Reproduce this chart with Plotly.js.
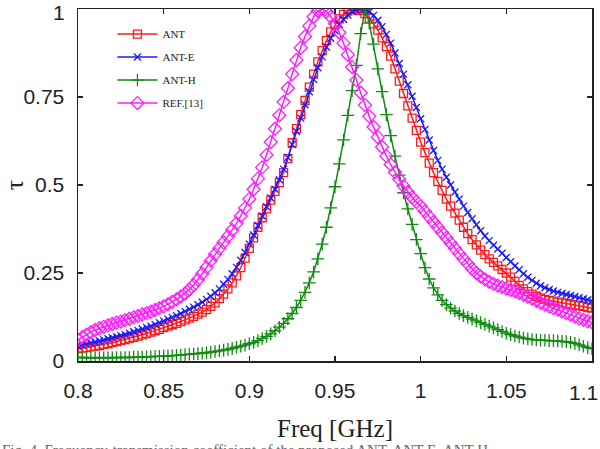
<!DOCTYPE html>
<html>
<head>
<meta charset="utf-8">
<script src="https://cdn.plot.ly/plotly-3.0.1.min.js"></script>
<style>html,body{margin:0;padding:0;background:#fff;}#chart{width:600px;height:449px;}</style>
</head>
<body>
<div id="chart"></div>
<script>
// Frequency grid: starts at 0.8 GHz, step 0.0025 GHz (121 samples), passed to Plotly as x0/dx
const freqStart = 0.8;
const freqStep = 0.0025;

const seriesNames = ["ANT", "ANT-E", "ANT-H", "REF.[13]"];

const tauANT = [
0.035,0.037,0.038,0.040,0.042,0.044,0.047,0.049,0.052,0.055,
0.058,0.061,0.064,0.067,0.071,0.074,0.078,0.082,0.086,0.090,
0.095,0.099,0.103,0.107,0.112,0.117,0.122,0.127,0.133,0.139,
0.146,0.155,0.165,0.177,0.190,0.205,0.222,0.242,0.265,0.292,
0.320,0.350,0.380,0.407,0.432,0.457,0.482,0.507,0.535,0.575,
0.620,0.660,0.700,0.740,0.778,0.815,0.850,0.882,0.910,0.935,
0.955,0.972,0.985,0.994,0.998,1.000,0.996,0.987,0.974,0.958,
0.940,0.918,0.893,0.866,0.830,0.795,0.760,0.725,0.690,0.655,
0.622,0.592,0.562,0.535,0.510,0.485,0.460,0.440,0.420,0.400,
0.380,0.362,0.345,0.330,0.315,0.302,0.290,0.280,0.270,0.260,
0.250,0.238,0.226,0.215,0.205,0.197,0.190,0.184,0.179,0.175,
0.172,0.170,0.167,0.165,0.163,0.161,0.159,0.157,0.155,0.152,
0.150];

const tauANTE = [
0.042,0.045,0.048,0.051,0.054,0.057,0.060,0.063,0.066,0.069,
0.072,0.075,0.079,0.083,0.087,0.091,0.095,0.099,0.104,0.109,
0.114,0.119,0.124,0.129,0.135,0.141,0.147,0.153,0.160,0.167,
0.175,0.184,0.194,0.205,0.218,0.232,0.248,0.266,0.286,0.308,
0.332,0.358,0.385,0.412,0.438,0.463,0.488,0.515,0.545,0.578,
0.615,0.652,0.690,0.728,0.765,0.800,0.833,0.864,0.892,0.917,
0.938,0.956,0.971,0.983,0.992,0.998,1.000,0.998,0.992,0.982,
0.968,0.950,0.928,0.903,0.875,0.845,0.815,0.785,0.752,0.720,
0.688,0.658,0.628,0.598,0.570,0.545,0.522,0.500,0.480,0.460,
0.440,0.422,0.404,0.387,0.370,0.355,0.342,0.329,0.318,0.306,
0.294,0.282,0.270,0.259,0.248,0.238,0.229,0.221,0.214,0.208,
0.203,0.199,0.195,0.192,0.189,0.186,0.183,0.180,0.177,0.174,
0.170];

const tauANTH = [
0.010,0.010,0.009,0.009,0.009,0.009,0.009,0.009,0.009,0.010,
0.010,0.010,0.010,0.011,0.011,0.011,0.012,0.012,0.013,0.013,
0.014,0.014,0.015,0.016,0.017,0.018,0.019,0.020,0.021,0.022,
0.023,0.025,0.027,0.029,0.031,0.033,0.036,0.039,0.042,0.045,
0.049,0.053,0.058,0.064,0.070,0.077,0.086,0.096,0.107,0.120,
0.135,0.152,0.172,0.195,0.222,0.253,0.290,0.332,0.380,0.435,
0.495,0.560,0.628,0.698,0.768,0.840,0.930,1.000,0.960,0.900,
0.830,0.765,0.700,0.640,0.582,0.528,0.478,0.432,0.388,0.345,
0.305,0.265,0.233,0.208,0.188,0.172,0.160,0.150,0.142,0.135,
0.129,0.124,0.119,0.114,0.109,0.104,0.099,0.094,0.089,0.084,
0.079,0.075,0.071,0.068,0.065,0.063,0.061,0.060,0.059,0.059,
0.058,0.058,0.057,0.056,0.055,0.053,0.050,0.046,0.042,0.038,
0.035];

const tauREF = [
0.060,0.068,0.075,0.082,0.088,0.093,0.097,0.101,0.105,0.109,
0.112,0.116,0.120,0.124,0.128,0.132,0.136,0.140,0.145,0.150,
0.155,0.161,0.168,0.175,0.183,0.192,0.203,0.216,0.231,0.248,
0.266,0.285,0.303,0.320,0.337,0.354,0.372,0.391,0.412,0.435,
0.460,0.488,0.518,0.550,0.585,0.622,0.660,0.698,0.736,0.775,
0.815,0.855,0.890,0.922,0.952,0.978,0.995,1.000,0.993,0.978,
0.958,0.933,0.903,0.870,0.835,0.798,0.762,0.727,0.695,0.665,
0.636,0.608,0.582,0.558,0.536,0.516,0.497,0.480,0.465,0.452,
0.440,0.425,0.410,0.395,0.380,0.365,0.350,0.335,0.320,0.305,
0.290,0.276,0.262,0.250,0.240,0.232,0.225,0.219,0.214,0.210,
0.206,0.202,0.198,0.193,0.188,0.183,0.177,0.171,0.165,0.160,
0.155,0.150,0.146,0.141,0.136,0.131,0.126,0.121,0.117,0.113,
0.110];

const xTickVals = [0.8, 0.85, 0.9, 0.95, 1, 1.05, 1.1];
const xTickText = ["0.8", "0.85", "0.9", "0.95", "1", "1.05", "1.1"];
const yTickVals = [0, 0.25, 0.5, 0.75, 1];
const yTickText = ["0", "0.25", "0.5", "0.75", "1"];

const captionText = "Fig. 4. Frequency-transmission coefficient of the proposed ANT, ANT-E, ANT-H";

function mk(name, y, color, symbol, size, group) {
  return {
    type: "scatter", mode: "lines+markers", name: name, y: y,
    x0: freqStart, dx: freqStep, legendgroup: group,
    line: {color: color, width: 1.5},
    marker: {symbol: symbol, size: size, color: color, line: {color: color, width: 1.3}},
    cliponaxis: true
  };
}

const traces = [
  mk(seriesNames[0], tauANT, "#ff1a1a", "square-open", 8, "g1"),
  mk(seriesNames[1], tauANTE, "#1a1aff", "x-thin", 7, "g2"),
  mk(seriesNames[2], tauANTH, "#138a13", "cross-thin", 9, "g3"),
  mk(seriesNames[3], tauREF, "#ff1aff", "diamond-open", 10, "g4")
];

const tickFont = {family: "Liberation Sans, Arial, sans-serif", size: 21, color: "#222"};
const lastX = xTickVals.length - 1;
const lastY = yTickVals.length - 1;

const layout = {
  width: 600, height: 449,
  margin: {l: 78, r: 8, t: 9, b: 88},
  paper_bgcolor: "#fff", plot_bgcolor: "#fff",
  showlegend: true,
  legend: {
    x: 0.067, y: 0.97, xanchor: "left", yanchor: "top",
    bgcolor: "rgba(0,0,0,0)", borderwidth: 0,
    font: {family: "Liberation Serif, Times New Roman, serif", size: 11, color: "#222"},
    tracegroupgap: 4, itemwidth: 40
  },
  xaxis: {
    range: [0.8, 1.1], tickvals: xTickVals,
    ticktext: xTickText.map((t, i) => i === lastX ? "" : t),
    ticks: "inside", ticklen: 5, tickwidth: 1.2, tickcolor: "#222",
    showline: true, linecolor: "#222", linewidth: 1.5, mirror: "ticks",
    showgrid: false, zeroline: false,
    tickfont: tickFont,
    ticklabelstandoff: 10,
    title: {text: "Freq [GHz]", font: {family: "Liberation Serif, Times New Roman, serif", size: 25, color: "#222"}, standoff: 19},
    automargin: false
  },
  yaxis: {
    range: [0, 1], tickvals: yTickVals,
    ticktext: yTickText.map((t, i) => i === lastY ? "" : t),
    ticks: "inside", ticklen: 5, tickwidth: 1.2, tickcolor: "#222",
    showline: true, linecolor: "#222", linewidth: 1.5, mirror: "ticks",
    showgrid: false, zeroline: false,
    tickfont: tickFont,
    ticklabelstandoff: 8,
    title: {text: "τ", font: {family: "Liberation Serif, Times New Roman, serif", size: 26, color: "#222"}, standoff: 10},
    automargin: false
  },
  annotations: [
    {text: xTickText[lastX], xref: "paper", yref: "paper", x: 1.016, y: -0.052,
     xanchor: "right", yanchor: "top", showarrow: false, font: tickFont},
    {text: yTickText[lastY], xref: "paper", yref: "paper", x: -0.022, y: 0.99,
     xanchor: "right", yanchor: "middle", showarrow: false, font: tickFont},
    {text: captionText, xref: "paper", yref: "paper", x: -0.152, y: -0.225, xanchor: "left", yanchor: "top",
     showarrow: false, font: {family: "Liberation Serif, Times New Roman, serif", size: 15, color: "#666"}}
  ]
};

Plotly.newPlot("chart", traces, layout, {staticPlot: true, displayModeBar: false});
</script>
</body>
</html>
